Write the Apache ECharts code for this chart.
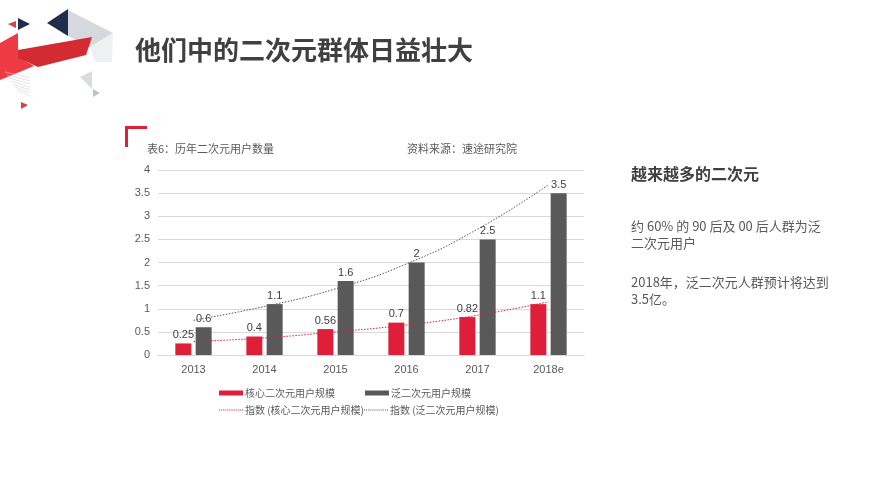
<!DOCTYPE html>
<html><head><meta charset="utf-8">
<script src="https://cdn.jsdelivr.net/npm/echarts@6/dist/echarts.min.js"></script>
<style>html,body{margin:0;padding:0;background:#fff}#c{width:892px;height:499px}</style>
</head><body><div id="c"></div>
<script>
const categories = ['2013', '2014', '2015', '2016', '2017', '2018e'];
const coreUsers = [0.25, 0.4, 0.56, 0.7, 0.82, 1.1];
const panUsers = [0.6, 1.1, 1.6, 2, 2.5, 3.5];
const coreTrend = [0.29, 0.37, 0.50, 0.65, 0.86, 1.15];
const panTrend = [0.75, 1.05, 1.43, 1.97, 2.72, 3.68];
const yTicks = [0, 0.5, 1, 1.5, 2, 2.5, 3, 3.5, 4];
const seriesNames = ['核心二次元用户规模', '泛二次元用户规模', '指数 (核心二次元用户规模)', '指数 (泛二次元用户规模)'];

const RED = '#DF1F3A', GREY = '#595959', TXT = '#404040';
const FONT = '"Liberation Sans", "Noto Sans CJK SC", sans-serif';
const CJK = '"Noto Sans CJK SC", sans-serif';

function poly(points, fill) {
  return { type: 'polygon', shape: { points: points }, style: { fill: fill }, silent: true };
}
const deco = [
  poly([[68,10],[113,33],[90,47],[68,36]], '#D5D8DC'),
  poly([[90,47],[113,33],[112,62],[95,62]], '#EEF0F2'),
  poly([[0,43],[18,33],[18,57],[34,66],[0,80]], '#EE3B43'),
  poly([[18,50],[92,37],[86,55],[38,67],[18,58]], '#D42A31'),
  poly([[8,24],[16,21],[16,28]], '#E23A44'),
  poly([[18,18],[30,24],[18,30]], '#1F2E4A'),
  poly([[47,23],[68,9],[68,36]], '#1F2E4A'),
  poly([[80,77],[92,71],[92,89]], '#D8DCE0'),
  poly([[93,89],[100,93],[93,97]], '#BFC4CA'),
  poly([[21,102],[28,105],[21,109]], '#E23A44')
];
for (let i = 0; i < 7; i++) {
  deco.push({ type: 'line', shape: { x1: 5 + i * 2, y1: 72 + i * 3, x2: 30, y2: 72 + i * 3 + 6 }, style: { stroke: '#D0D0D0', lineWidth: 0.6 }, silent: true });
}

const texts = [
  { type: 'text', left: 135, top: 37, style: { text: '他们中的二次元群体日益壮大', font: 'bold 26px ' + CJK, fill: TXT } },
  { type: 'text', left: 147, top: 143, style: { text: '表6：历年二次元用户数量', font: '11px ' + CJK, fill: GREY } },
  { type: 'text', left: 407, top: 143, style: { text: '资料来源：速途研究院', font: '11px ' + CJK, fill: GREY } },
  { type: 'text', left: 631, top: 166, style: { text: '越来越多的二次元', font: 'bold 16px ' + CJK, fill: TXT } },
  { type: 'text', left: 631, top: 218, style: { text: '约 60% 的 90 后及 00 后人群为泛\n二次元用户', font: '13px ' + CJK, fill: GREY, lineHeight: 17 } },
  { type: 'text', left: 631, top: 274, style: { text: '2018年，泛二次元人群预计将达到\n3.5亿。', font: '13px ' + CJK, fill: GREY, lineHeight: 17 } },
  { type: 'rect', shape: { x: 125, y: 126, width: 22, height: 3 }, style: { fill: RED }, silent: true },
  { type: 'rect', shape: { x: 125, y: 126, width: 3, height: 21 }, style: { fill: RED }, silent: true }
];

let dots = '';
for (let i = 0; i < 12; i++) dots += 'M' + (i * 2) + ',0h1v1h-1z ';
const DOT_ICON = 'path://' + dots;

function legendAt(name, left, top, isLine) {
  return {
    data: [name], left: left, top: top, itemWidth: 24, itemHeight: isLine ? 1.3 : 5, itemGap: 0,
    icon: isLine ? DOT_ICON : 'rect', selectedMode: false,
    textStyle: { fontSize: 10, color: GREY, fontFamily: CJK, padding: [0, 0, 0, -3] }
  };
}

const chart = echarts.init(document.getElementById('c'), null, { renderer: 'canvas' });
chart.setOption({
  animation: false,
  backgroundColor: '#fff',
  graphic: deco.concat(texts),
  legend: [
    legendAt(seriesNames[0], 214, 383, false),
    legendAt(seriesNames[1], 360, 383, false),
    legendAt(seriesNames[2], 214, 400, true),
    legendAt(seriesNames[3], 359, 400, true)
  ],
  grid: { left: 158, right: 308, top: 170, bottom: 144, containLabel: false },
  xAxis: {
    type: 'category', data: categories,
    axisLine: { show: true, lineStyle: { color: '#D9D9D9' } },
    axisTick: { show: false },
    axisLabel: { color: GREY, fontSize: 11, fontFamily: FONT, margin: 9 }
  },
  yAxis: {
    type: 'value', min: yTicks[0], max: yTicks[yTicks.length - 1], interval: yTicks[1] - yTicks[0],
    axisLine: { show: false }, axisTick: { show: false },
    splitLine: { lineStyle: { color: '#D9D9D9' } },
    axisLabel: { color: GREY, fontSize: 11, fontFamily: FONT, margin: 8 }
  },
  series: [
    { name: seriesNames[0], type: 'bar', data: coreUsers, barWidth: 16, barGap: '27%',
      itemStyle: { color: RED },
      label: { show: true, position: 'top', distance: 3, color: TXT, fontSize: 11, fontFamily: FONT } },
    { name: seriesNames[1], type: 'bar', data: panUsers, barWidth: 16, barGap: '27%',
      itemStyle: { color: GREY },
      label: { show: true, position: 'top', distance: 3, color: TXT, fontSize: 11, fontFamily: FONT } },
    { name: seriesNames[2], type: 'line', data: coreTrend, smooth: true, symbol: 'none', z: 5,
      lineStyle: { color: RED, width: 1, type: [1.5, 1.5] }, itemStyle: { color: RED } },
    { name: seriesNames[3], type: 'line', data: panTrend, smooth: true, symbol: 'none', z: 5,
      lineStyle: { color: GREY, width: 1, type: [1.5, 1.5] }, itemStyle: { color: GREY } }
  ]
});
</script></body></html>
